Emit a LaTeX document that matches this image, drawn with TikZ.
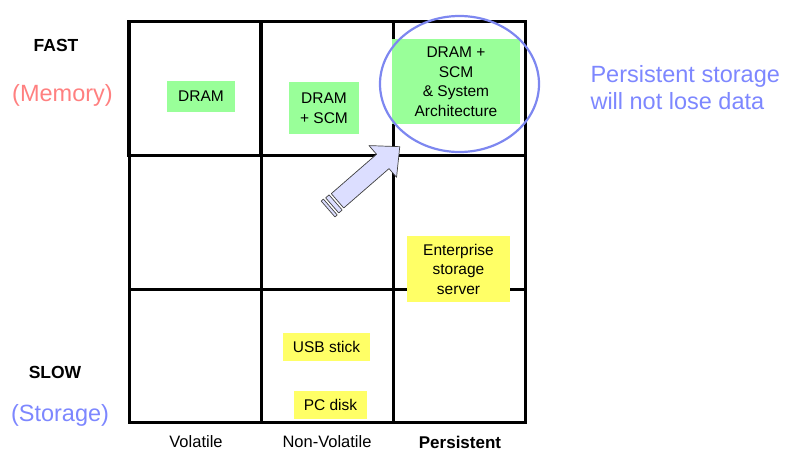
\documentclass[tikz,border=0pt]{standalone}
\usepackage{fontspec}
\setmainfont{Liberation Sans}
\usetikzlibrary{arrows.meta,calc,positioning,shapes.geometric}

\definecolor{memGreen}{RGB}{153,255,153}
\definecolor{diskYellow}{RGB}{255,255,102}
\definecolor{memPink}{RGB}{255,128,128}
\definecolor{storeBlue}{RGB}{125,135,255}
\definecolor{ringBlue}{RGB}{125,135,240}
\definecolor{arrowFill}{RGB}{220,222,255}

\begin{document}
\begin{tikzpicture}[
    x=1pt, y=-1pt,
    font=\fontsize{15.5}{19.5}\selectfont,
    grid/.style={line width=3pt, line cap=rect},
    memBox/.style={fill=memGreen, inner sep=0pt, align=center},
    diskBox/.style={fill=diskYellow, inner sep=0pt, align=center},
    rowLabel/.style={font=\fontsize{17.5}{20}\selectfont\bfseries},
    colLabel/.style={font=\fontsize{16.5}{20}\selectfont},
    noteLabel/.style={font=\fontsize{23.5}{27}\selectfont},
    arrowBody/.style={draw=black!75, fill=arrowFill, line width=0.7pt, line join=round},
  ]

\useasboundingbox (0,0) rectangle (788,455);

% ============================ grid ========================================
\draw[grid] (129,21.5) rectangle (525,422);
\draw[grid] (261,21.5) -- (261,422);
\draw[grid] (393,21.5) -- (393,422);
\draw[grid] (129,155.5) -- (525,155.5);
\draw[grid] (129,289) -- (525,289);
\draw[line width=3.8pt] (129,21.5) rectangle (261,155.5);   % fast + volatile cell

% ---- memory technologies ---------------------------------------------
\node[memBox, minimum width=68, minimum height=31] (dram) at (201,96.5) {DRAM};
\node[memBox, minimum width=70, minimum height=52] (dramScm) at (324,108) {DRAM\\+ SCM};
\node[memBox, minimum width=128, minimum height=85] (dramSys) at (456,81.5)
      {DRAM +\\SCM\\\& System\\Architecture};

% ---- storage technologies --------------------------------------------
\node[diskBox, minimum width=103, minimum height=66] (enterprise) at (458.5,269)
      {Enterprise\\storage\\server};
\node[diskBox, minimum width=87, minimum height=28] (usb) at (326.5,347) {USB stick};
\node[diskBox, minimum width=73, minimum height=28] (pcDisk) at (330.5,405) {PC disk};

% ---- highlight ring and arrow ------------------------------------------
\node[draw=ringBlue, line width=2.2pt, ellipse, inner sep=0pt,
      minimum width=159, minimum height=136] (ring) at (459.5,84) {};

\begin{scope}[shift={(337.5,200.8)}, rotate=41]
  \draw[arrowBody] (0,-9.5) -- (60,-9.5) -- (60,-21) -- (82.5,0)
        -- (60,21) -- (60,9.5) -- (0,9.5) -- cycle;
  \draw[arrowBody] (-2.5,-10) rectangle (-7,10);
  \draw[arrowBody] (-9.5,-10.5) rectangle (-12.5,10.5);
\end{scope}

% ---- axis labels -------------------------------------------------------
\node[rowLabel] (fast) at (56,45) {FAST};
\node[noteLabel, memPink] (memory) at (62.5,95) {(Memory)};
\node[rowLabel] (slow) at (55,372.5) {SLOW};
\node[noteLabel, storeBlue] (storage) at (60,415) {(Storage)};

\node[colLabel] (volatile) at (196,442) {Volatile};
\node[colLabel] (nonVolatile) at (327,442) {Non-Volatile};
\node[colLabel, font=\fontsize{17}{20}\selectfont\bfseries] (persistent) at (460,442) {Persistent};

\node[noteLabel, storeBlue, align=left, anchor=west] (note) at (587,88)
      {Persistent storage\\will not lose data};

\end{tikzpicture}
\end{document}
